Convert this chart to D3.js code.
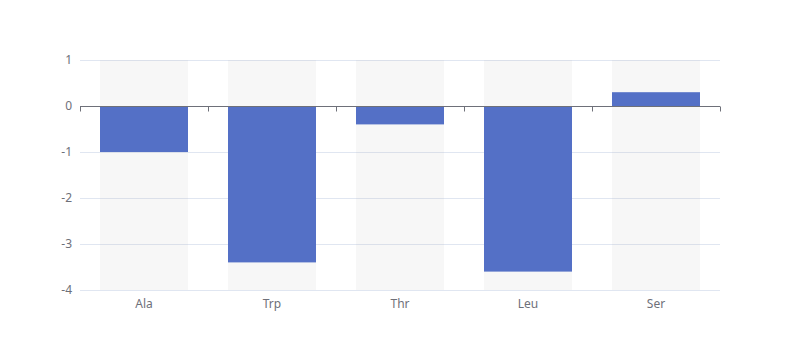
<!DOCTYPE html>
<html><head><meta charset="utf-8">
<script src="https://cdn.jsdelivr.net/npm/d3@7"></script>
<style>body{margin:0;background:#fff}svg{display:block}</style>
</head><body>
<svg id="c" width="800" height="360"></svg>
<script>
const categories = ["Ala", "Trp", "Thr", "Leu", "Ser"];
const values = [-1, -3.4, -0.4, -3.6, 0.3];
const yTicks = [1, 0, -1, -2, -3, -4];

const svg = d3.select("#c");
const L = 80, R = 720, T = 60, B = 290;
const x = d3.scaleBand().domain(categories).range([L, R]).paddingInner(0).paddingOuter(0);
const y = d3.scaleLinear().domain([-4, 1]).range([B, T]);
const bw = x.bandwidth() * 0.6875;
const font = "'Microsoft YaHei', 'Noto Sans', sans-serif";

// grid lines
svg.append("g").selectAll("line").data(yTicks).join("line")
  .attr("x1", L).attr("x2", R)
  .attr("y1", d => Math.round(y(d)) + 0.5).attr("y2", d => Math.round(y(d)) + 0.5)
  .attr("stroke", "#E0E6F1").attr("stroke-width", 1);

// backgrounds
svg.append("g").selectAll("rect").data(categories).join("rect")
  .attr("x", d => x(d) + (x.bandwidth() - bw) / 2).attr("width", bw)
  .attr("y", T).attr("height", B - T)
  .attr("fill", "rgba(180,180,180,0.1)");

// bars
svg.append("g").selectAll("rect").data(values).join("rect")
  .attr("x", (d, i) => x(categories[i]) + (x.bandwidth() - bw) / 2).attr("width", bw)
  .attr("y", d => Math.min(y(d), y(0)))
  .attr("height", d => Math.abs(y(d) - y(0)))
  .attr("fill", "#5470c6");

// x axis at zero
const y0 = Math.round(y(0)) + 0.5;
const xa = svg.append("g");
xa.append("line").attr("x1", L).attr("x2", R).attr("y1", y0).attr("y2", y0)
  .attr("stroke", "#6E7079").attr("stroke-width", 1);
const bounds = categories.map(c => x(c)).concat([R]);
xa.selectAll("line.t").data(bounds).join("line").attr("class", "t")
  .attr("x1", d => Math.round(d) + 0.5).attr("x2", d => Math.round(d) + 0.5)
  .attr("y1", y0).attr("y2", y0 + 5)
  .attr("stroke", "#6E7079").attr("stroke-width", 1);

// x labels at bottom
svg.append("g").selectAll("text").data(categories).join("text")
  .attr("x", d => x(d) + x.bandwidth() / 2).attr("y", B + 8)
  .attr("dy", "0.8em").attr("text-anchor", "middle")
  .attr("font-family", font).attr("font-size", 12).attr("fill", "#6E7079")
  .text(d => d);

// y labels
svg.append("g").selectAll("text").data(yTicks).join("text")
  .attr("x", L - 8).attr("y", d => y(d)).attr("dy", "0.35em")
  .attr("text-anchor", "end")
  .attr("font-family", font).attr("font-size", 12).attr("fill", "#6E7079")
  .text(d => d);
</script>
</body></html>
